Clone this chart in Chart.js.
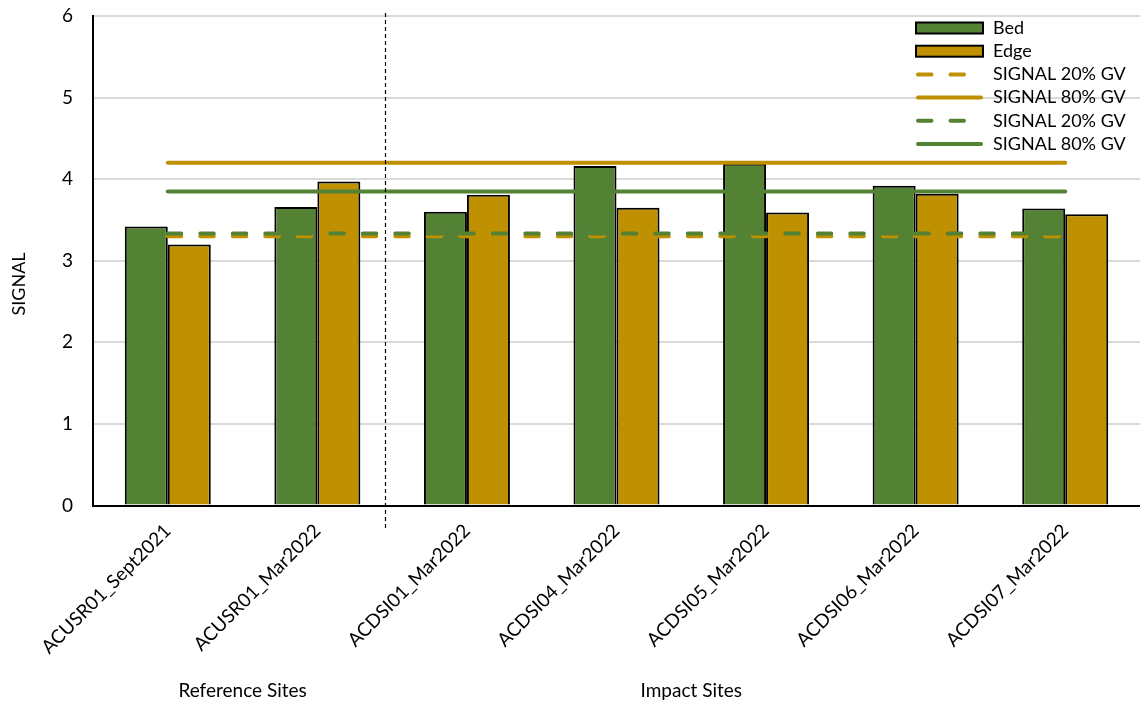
<!DOCTYPE html>
<html><head><meta charset="utf-8">
<script src="https://cdn.jsdelivr.net/npm/chart.js@4.4.0/dist/chart.umd.min.js"></script>
<style>html,body{margin:0;padding:0;background:#fff;}#wrap{position:relative;width:1140px;height:704px;}</style>
</head><body><div id="wrap"><canvas id="c" width="1140" height="704"></canvas></div>
<script>
const categories = ['ACUSR01_Sept2021','ACUSR01_Mar2022','ACDSI01_Mar2022','ACDSI04_Mar2022','ACDSI05_Mar2022','ACDSI06_Mar2022','ACDSI07_Mar2022'];
const bedValues  = [3.42, 3.66, 3.60, 4.16, 4.19, 3.92, 3.64];
const edgeValues = [3.20, 3.97, 3.81, 3.65, 3.59, 3.82, 3.57];
const edge20GV = [3.30, 3.30, 3.30, 3.30, 3.30, 3.30, 3.30];
const edge80GV = [4.20, 4.20, 4.20, 4.20, 4.20, 4.20, 4.20];
const bed20GV  = [3.335, 3.335, 3.335, 3.335, 3.335, 3.335, 3.335];
const bed80GV  = [3.85, 3.85, 3.85, 3.85, 3.85, 3.85, 3.85];
const yTickValues = [0, 1, 2, 3, 4, 5, 6];
const groupLabels = ['Reference Sites', 'Impact Sites'];
const groupCenters = [0.5, 3.5];   // category positions of group captions
const groupDivider = 1.45;         // category position of dashed divider
const seriesNames = ['Bed', 'Edge', 'SIGNAL 20% GV', 'SIGNAL 80% GV', 'SIGNAL 20% GV', 'SIGNAL 80% GV'];

const GREEN = '#548235', GOLD = '#BF9000';
const FONT = 'Lato, "Open Sans", sans-serif';
const DASH = [13.5, 19];

function lineDs(label, data, color, dashed, order) {
  return { type: 'line', label, data, borderColor: color, backgroundColor: color,
    borderWidth: 4, borderCapStyle: 'round', borderDash: dashed ? DASH : [],
    pointRadius: 0, pointHoverRadius: 0, fill: false, tension: 0, order };
}

const extras = {
  id: 'extras',
  afterDatasetsDraw(chart) {
    const ctx = chart.ctx, x = chart.scales.x, a = chart.chartArea;
    ctx.save();
    const dx = Math.round(x.getPixelForValue(groupDivider)) + 0.5;
    ctx.strokeStyle = '#000'; ctx.lineWidth = 1.2; ctx.setLineDash([4, 3]);
    ctx.beginPath(); ctx.moveTo(dx, a.top - 3); ctx.lineTo(dx, a.bottom + 23); ctx.stroke();
    ctx.setLineDash([]);
    ctx.fillStyle = '#000'; ctx.font = '19px ' + FONT; ctx.textAlign = 'center'; ctx.textBaseline = 'middle';
    groupLabels.forEach((t, i) => ctx.fillText(t, x.getPixelForValue(groupCenters[i]), 691));
    ctx.translate(19, 284); ctx.rotate(-Math.PI / 2);
    ctx.font = '18px ' + FONT; ctx.fillText('SIGNAL', 0, 0);
    ctx.restore();
    ctx.save();
    const lx0 = 916, lx1 = 983, tx = 993, rows = [28, 51.2, 74.4, 97.6, 120.8, 144];
    const kinds = [['box', GREEN], ['box', GOLD], ['dash', GOLD], ['solid', GOLD], ['dash', GREEN], ['solid', GREEN]];
    ctx.font = '18px ' + FONT; ctx.textAlign = 'left'; ctx.textBaseline = 'middle';
    kinds.forEach((k, i) => {
      const y = rows[i];
      if (k[0] === 'box') {
        ctx.fillStyle = k[1]; ctx.fillRect(lx0, y - 5.5, lx1 - lx0, 11);
        ctx.strokeStyle = '#000'; ctx.lineWidth = 2; ctx.strokeRect(lx0, y - 5.5, lx1 - lx0, 11);
      } else {
        ctx.strokeStyle = k[1]; ctx.lineWidth = 4; ctx.lineCap = 'round';
        ctx.setLineDash(k[0] === 'dash' ? DASH : []);
        ctx.beginPath(); ctx.moveTo(lx0 + 2, y); ctx.lineTo(lx1 - 2, y); ctx.stroke();
        ctx.setLineDash([]);
      }
      ctx.fillStyle = '#000'; ctx.fillText(seriesNames[i], tx, y);
    });
    ctx.restore();
  }
};

new Chart(document.getElementById('c'), {
  type: 'bar',
  data: {
    labels: categories,
    datasets: [
      { label: seriesNames[0], data: bedValues, backgroundColor: GREEN, borderColor: '#000', borderWidth: 2, categoryPercentage: 0.575, barPercentage: 1.0, order: 3 },
      { label: seriesNames[1], data: edgeValues, backgroundColor: GOLD, borderColor: '#000', borderWidth: 2, categoryPercentage: 0.575, barPercentage: 1.0, order: 3 },
      lineDs(seriesNames[2], edge20GV, GOLD, true, 2),
      lineDs(seriesNames[3], edge80GV, GOLD, false, 2),
      lineDs(seriesNames[4], bed20GV, GREEN, true, 1),
      lineDs(seriesNames[5], bed80GV, GREEN, false, 1)
    ]
  },
  options: {
    responsive: false, animation: false, devicePixelRatio: 1,
    layout: { padding: { top: 16, left: 0, right: 0, bottom: 0 } },
    plugins: { legend: { display: false }, tooltip: { enabled: false } },
    scales: {
      x: {
        grid: { display: false, drawTicks: false },
        border: { display: true, color: '#000', width: 2 },
        ticks: { color: '#000', font: { family: FONT, size: 19 }, maxRotation: 45, minRotation: 45, padding: 14, autoSkip: false },
        afterFit(s) { s.height = 198.5; }
      },
      y: {
        min: 0, max: 6,
        afterBuildTicks(s) { s.ticks = yTickValues.map(v => ({ value: v })); },
        grid: { color: '#d9d9d9', lineWidth: 2, drawTicks: true, tickLength: 17, tickColor: 'rgba(0,0,0,0)' },
        border: { display: true, color: '#000', width: 2 },
        ticks: { color: '#000', font: { family: FONT, size: 19 }, padding: 3 },
        afterFit(s) { s.width = 93; }
      }
    }
  },
  plugins: [extras]
});
</script></body></html>
